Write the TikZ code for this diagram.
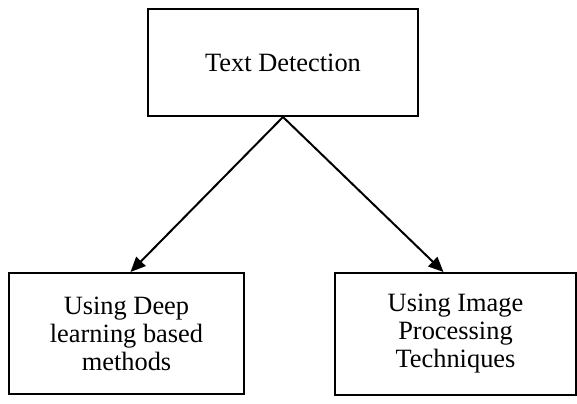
\documentclass[tikz,border=0pt]{standalone}
\usepackage{fontspec}
\setmainfont{Liberation Serif}
\usetikzlibrary{arrows.meta,positioning}

\begin{document}
\begin{tikzpicture}[
  x=0.5pt, y=-0.5pt,
  box/.style={draw, line width=1pt, align=center, font=\fontsize{13.2}{14}\selectfont, inner sep=0pt},
  >={Triangle[length=7.5pt,width=6.5pt]}
]
\useasboundingbox (0,0) rectangle (577,403);
\node[box, minimum width=135pt, minimum height=53.5pt] (det) at (283,62.5) {Text Detection};
\node[box, minimum width=117.5pt, minimum height=60.5pt] (deep) at (126.5,333.5) {Using Deep\\learning based\\methods};
\node[box, minimum width=120.5pt, minimum height=61pt] (proc) at (455.5,334) {Using Image\\Processing\\Techniques};
\draw[->, line width=1pt] (det.south) -- ([xshift=2pt]deep.north);
\draw[->, line width=1pt] (det.south) -- ([xshift=-6pt]proc.north);
\end{tikzpicture}
\end{document}
